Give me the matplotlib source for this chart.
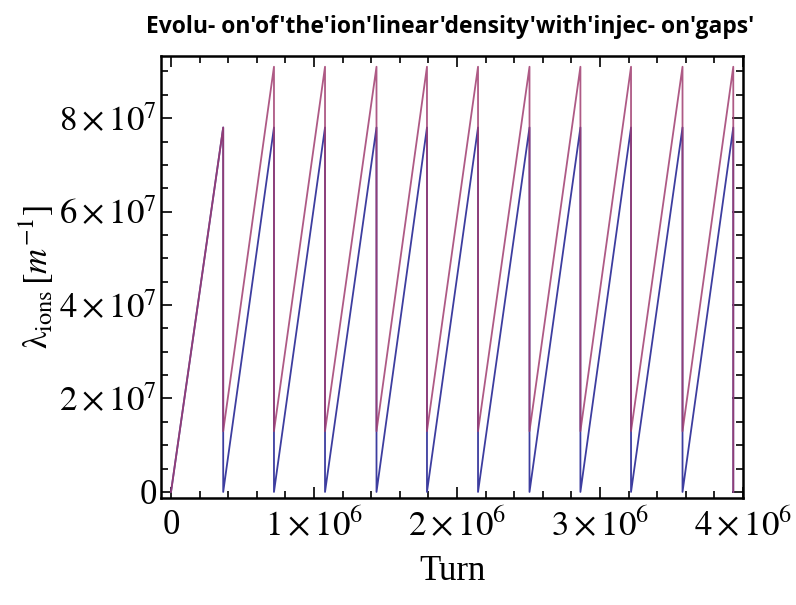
import numpy as np
import matplotlib
matplotlib.use("Agg")
import matplotlib.pyplot as plt
from matplotlib.ticker import MultipleLocator, FuncFormatter

# turns at which the ion population is dumped (injection gaps)
gap_turns = [0.365e6, 0.72e6, 1.077e6, 1.437e6, 1.79e6, 2.147e6,
             2.507e6, 2.863e6, 3.217e6, 3.577e6, 3.932e6]
peak_clean = 7.8e7      # blue: full clearing in each gap
peak_residual = 9.1e7   # magenta: residual ions left after the gap
residual_floor = 1.3e7

# build the sawtooth point lists
x_blue, y_blue = [0.0], [0.0]
x_mag, y_mag = [0.0], [0.0]
for i, t in enumerate(gap_turns):
    last = i == len(gap_turns) - 1
    x_blue += [t, t]
    y_blue += [peak_clean, 0.0]
    x_mag += [t, t]
    top = peak_clean if i == 0 else peak_residual
    y_mag += [top, 0.0 if last else residual_floor]

plt.rcParams["mathtext.fontset"] = "stix"
plt.rcParams["font.family"] = ["Liberation Serif", "DejaVu Serif"]

fig = plt.figure(figsize=(7.96, 6.05), dpi=100)
ax = fig.add_axes([161 / 796, 1 - 498 / 605, 582 / 796, 442 / 605])

ax.plot(x_blue, y_blue, color="#3D3D9F", lw=1.3)
ax.plot(x_mag, y_mag, color="#A03D70", lw=1.3, alpha=0.85)

ax.set_xlim(-0.07e6, 4.0e6)
ax.set_ylim(-1.3e6, 9.33e7)

ax.xaxis.set_major_locator(MultipleLocator(1e6))
ax.xaxis.set_minor_locator(MultipleLocator(2e5))
ax.yaxis.set_major_locator(MultipleLocator(2e7))
ax.yaxis.set_minor_locator(MultipleLocator(5e6))


def sci(v, pos, exp):
    k = int(round(v / 10 ** exp))
    if k == 0:
        return "0"
    return r"$%d\times10^{%d}$" % (k, exp)


ax.xaxis.set_major_formatter(FuncFormatter(lambda v, p: sci(v, p, 6)))
ax.yaxis.set_major_formatter(FuncFormatter(lambda v, p: sci(v, p, 7)))

ax.tick_params(which="both", direction="in", top=True, right=True,
               labelsize=25, width=1.2)
ax.tick_params(which="major", length=8)
ax.tick_params(which="minor", length=5)
ax.tick_params(axis="x", pad=8)
ax.tick_params(axis="y", pad=3)
for s in ax.spines.values():
    s.set_linewidth(1.8)

ax.set_xlabel("Turn", fontsize=25, labelpad=8)
ax.set_ylabel(r"$\mathrm{\lambda_{ions}}\,[m^{-1}]$", fontsize=25, labelpad=2)

fig.text(0.566, 0.955,
         "Evolu- on'of'the'ion'linear'density'with'injec- on'gaps'",
         ha="center", va="center", fontsize=16.5, fontweight="bold",
         family=["Liberation Sans Narrow", "Open Sans", "DejaVu Sans"])

fig.savefig("out.png", dpi=100)
